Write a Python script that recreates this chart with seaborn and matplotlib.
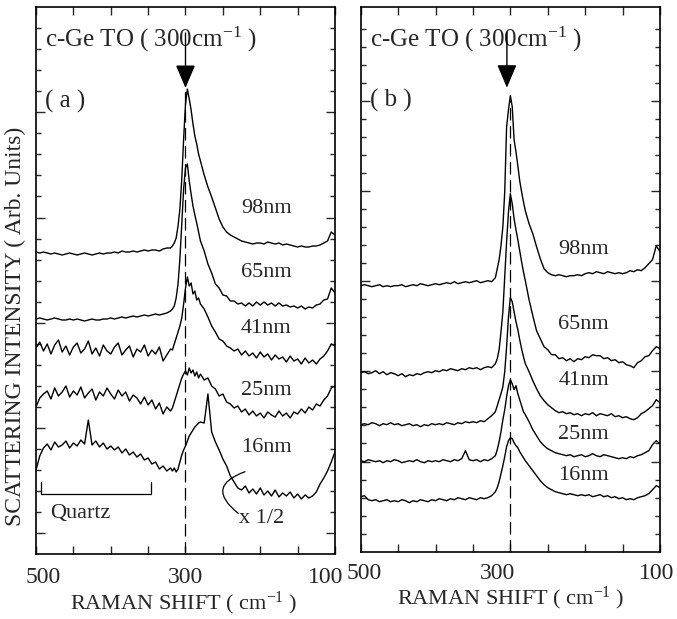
import matplotlib
matplotlib.use("Agg")
import matplotlib.pyplot as plt
from matplotlib.transforms import ScaledTranslation
import pandas as pd
import seaborn as sns

# Raman shift grid (cm-1), sampled finer around the Ge TO peak
raman_shift = [500, 495, 490, 485, 480, 475, 470, 465, 460, 455,
               450, 445, 440, 435, 430, 425, 420, 415, 410, 405,
               400, 395, 390, 385, 380, 375, 370, 365, 360, 355,
               350, 345, 340, 335, 330, 325, 320,
               317.5, 315, 312.5, 310, 307.5, 305, 302.5, 300, 297.5, 295,
               292.5, 290, 287.5, 285, 282.5,
               280, 275, 270, 265, 260, 255, 250, 245, 240, 235,
               230, 225, 220, 215, 210, 205, 200, 195, 190, 185,
               180, 175, 170, 165, 160, 155, 150, 145, 140, 135,
               130, 125, 120, 115, 110, 105, 100]

thickness = ["98nm", "65nm", "41nm", "25nm", "16nm"]

# ---- panel (a) : intensities, arb. units ----
a_98nm = [302, 301, 302, 301, 300, 301, 300, 299, 300, 301,
          300, 299, 300, 301, 300, 299, 300, 301, 300, 301,
          301, 302, 301, 303, 302, 302, 303, 302, 303, 304,
          303, 304, 304, 303, 305, 306, 306,
          308, 311, 316, 328, 345, 375, 415, 450, 465, 455, 444, 430, 418, 410, 400,
          393, 379, 367, 357, 346, 335, 327, 322, 319, 317,
          315, 313, 312, 311, 310, 311, 311, 310, 312, 311,
          310, 311, 309, 310, 309, 308, 307, 308, 307, 307,
          308, 308, 309, 311, 313, 322, 319]
a_65nm = [235, 236, 235, 234, 235, 236, 235, 234, 234, 235,
          234, 235, 234, 233, 234, 235, 234, 234, 235, 235,
          236, 235, 236, 237, 236, 237, 238, 237, 238, 239,
          238, 239, 240, 239, 240, 241, 243,
          245, 248, 256, 270, 295, 330, 365, 386, 390, 373, 360, 348, 339, 331, 322,
          313, 303, 290, 281, 270, 266, 259, 258, 253, 253,
          250, 251, 248, 251, 248, 252, 249, 252, 249, 251,
          248, 251, 248, 249, 247, 248, 246, 248, 245, 247,
          246, 249, 250, 254, 255, 266, 261]
a_41nm = [206, 212, 203, 210, 200, 209, 214, 202, 208, 199,
          207, 211, 201, 205, 213, 200, 206, 198, 209, 203,
          200, 207, 211, 199, 204, 208, 197, 205, 202, 209,
          198, 204, 200, 207, 193, 199, 205,
          204, 210, 216, 222, 228, 236, 250, 266, 277, 268, 271, 260, 263, 254, 256,
          250, 245, 237, 228, 222, 215, 213, 208, 206, 203,
          205, 199, 203, 198, 201, 196, 202, 197, 200, 194,
          199, 195, 197, 192, 198, 193, 195, 190, 196, 191,
          194, 190, 195, 198, 203, 210, 208]
a_25nm = [147, 156, 160, 163, 155, 166, 158, 162, 168, 157,
          163, 159, 167, 156, 161, 165, 154, 162, 158, 166,
          160, 155, 164, 158, 162, 153, 159, 156, 150, 157,
          149, 154, 145, 151, 140, 147, 143,
          146, 152, 158, 164, 170, 176, 180, 183, 179, 186, 181, 184, 178, 182, 176,
          180, 174, 176, 168, 165, 158, 160, 152, 150, 146,
          148, 142, 145, 139, 143, 138, 141, 136, 142, 139,
          137, 143, 138, 141, 136, 142, 140, 145, 141, 147,
          144, 150, 148, 154, 158, 166, 168]
a_16nm = [84, 98, 106, 110, 104, 112, 107, 109, 113, 106,
          111, 108, 114, 110, 134, 109, 113, 107, 111, 105,
          108, 104, 107, 101, 105, 99, 102, 97, 100, 94,
          96, 90, 92, 85, 88, 83, 86,
          83, 86, 82, 85, 92, 99, 104, 108, 113, 118, 121, 124, 127, 129, 131,
          132, 131, 160, 122, 112, 104, 95, 88, 78, 72,
          66, 64, 68, 61, 65, 60, 66, 59, 63, 58,
          64, 57, 61, 58, 62, 56, 60, 55, 59, 56,
          58, 62, 70, 76, 83, 92, 102]

# ---- panel (b) ----
b_98nm = [266, 267, 266, 265, 266, 267, 265, 266, 265, 266,
          266, 267, 265, 266, 267, 266, 268, 267, 266, 267,
          268, 267, 268, 269, 268, 270, 268, 269, 270, 269,
          270, 271, 269, 270, 271, 270, 274,
          283, 292, 306, 325, 360, 425, 442, 456, 445, 412, 400, 386, 371, 360, 350,
          341, 328, 318, 305, 293, 283, 279, 277, 276, 277,
          276, 275, 276, 276, 277, 276, 278, 279, 278, 280,
          279, 278, 280, 279, 278, 279, 278, 279, 281, 280,
          282, 281, 284, 288, 292, 306, 300]
b_65nm = [179, 180, 178, 179, 181, 178, 180, 177, 179, 178,
          176, 178, 175, 177, 176, 178, 177, 179, 180, 179,
          181, 180, 182, 181, 183, 182, 181, 183, 182, 184,
          183, 184, 182, 184, 185, 184, 188,
          193, 202, 220, 240, 275, 310, 340, 358, 348, 333, 322, 312, 301, 290, 280,
          271, 252, 236, 221, 213, 205, 202, 197, 197, 193,
          194, 191, 193, 190, 193, 192, 195, 194, 197, 196,
          196, 193, 194, 191, 192, 189, 190, 187, 186, 184,
          189, 191, 195, 196, 201, 205, 203]
b_41nm = [127, 128, 127, 129, 128, 126, 128, 127, 129, 127,
          128, 126, 127, 128, 126, 127, 125, 127, 126, 128,
          127, 128, 127, 129, 128, 127, 129, 128, 130, 129,
          130, 129, 131, 130, 133, 136, 140,
          146, 152, 158, 165, 180, 205, 235, 254, 250, 240, 230, 222, 212, 203, 195,
          188, 180, 171, 163, 156, 151, 147, 144, 141, 139,
          140, 138, 139, 137, 138, 136, 138, 137, 139, 136,
          138, 137, 136, 138, 135, 136, 134, 135, 133, 132,
          134, 138, 140, 143, 146, 152, 149]
b_25nm = [91, 90, 92, 91, 90, 91, 89, 91, 90, 92,
          91, 89, 90, 91, 90, 92, 90, 89, 91, 90,
          91, 90, 92, 91, 90, 92, 91, 93, 101, 92,
          91, 92, 90, 92, 91, 93, 96,
          102, 110, 120, 132, 142, 155, 166, 172, 168, 162, 166, 158, 152, 146, 140,
          137, 130, 122, 116, 110, 106, 103, 101, 99, 98,
          97, 96, 97, 95, 96, 97, 95, 96, 98, 96,
          95, 97, 96, 95, 94, 93, 94, 93, 95, 94,
          96, 97, 99, 101, 107, 111, 108]
b_16nm = [55, 56, 52, 51, 52, 50, 51, 52, 50, 51,
          50, 52, 51, 49, 51, 50, 52, 51, 50, 52,
          51, 53, 52, 51, 53, 52, 54, 53, 52, 54,
          53, 52, 54, 53, 54, 56, 60,
          64, 70, 78, 86, 95, 105, 111, 114, 113, 109, 106, 104, 100, 97, 94,
          91, 86, 81, 76, 71, 67, 64, 62, 60, 59,
          58, 57, 58, 57, 56, 57, 56, 57, 55, 56,
          57, 55, 56, 54, 55, 53, 54, 52, 53, 52,
          54, 55, 56, 58, 62, 66, 64]

# label positions (shift, intensity) next to each curve
label_x_a = 226
label_y_a = [341, 277, 221, 159, 102]
label_x_b = 236
label_y_b = [298, 223, 167, 113, 72]

ge_to = 300  # c-Ge TO position


def to_long(curves):
    frames = [pd.DataFrame({"shift": raman_shift, "intensity": v, "sample": n})
              for n, v in zip(thickness, curves)]
    return pd.concat(frames, ignore_index=True)


sns.set_style("ticks")
plt.rcParams["font.family"] = ["Liberation Serif", "DejaVu Serif"]
plt.rcParams["mathtext.fontset"] = "custom"
plt.rcParams["mathtext.rm"] = "Liberation Serif"
plt.rcParams["mathtext.it"] = "Liberation Serif:italic"

fig = plt.figure(figsize=(6.77, 6.19), dpi=100)
ax_a = fig.add_axes([36 / 677, 65 / 619, 299 / 677, 546.7 / 619])
ax_b = fig.add_axes([360.7 / 677, 67.3 / 619, 299.3 / 677, 544.4 / 619])

panels = [
    (ax_a, [a_98nm, a_65nm, a_41nm, a_25nm, a_16nm], 546.7, 21.03, [1, 6, 11, 16, 21], 25,
     label_x_a, label_y_a, "( a )", [7, 0, -9], 9.4, (0.493, -0.066)),
    (ax_b, [b_98nm, b_65nm, b_41nm, b_25nm, b_16nm], 544.4, 18.04, [5, 10, 15, 20, 25], 29,
     label_x_b, label_y_b, "( b )", [3.5, -13, -3], 8.0, (0.501, -0.061)),
]

for ax, curves, ytop, step, majors, nmin, lx, ly, tag, offs, pad, xl in panels:
    df = to_long(curves)
    sns.lineplot(data=df, x="shift", y="intensity", units="sample", estimator=None,
                 sort=False, color="black", linewidth=1.0, ax=ax, legend=False)

    ax.set_xlim(500, 100)
    ax.set_ylim(0, ytop)

    ax.set_xticks([500, 300, 100])
    ax.set_xticklabels(["500", "300", "100"])
    ax.set_xticks([450, 400, 350, 250, 200, 150], minor=True)
    ax.set_yticks([step * k for k in majors])
    ax.set_yticks([step * k for k in range(1, nmin + 1) if k not in majors], minor=True)
    ax.set_yticklabels([])

    ax.tick_params(axis="x", which="both", direction="in", top=True, bottom=True,
                   length=5.8, width=1.0, labelsize=17, pad=pad)
    ax.tick_params(axis="y", which="major", direction="in", left=True, right=True,
                   length=6.5, width=1.0)
    ax.tick_params(axis="y", which="minor", direction="in", left=True, right=True,
                   length=3.6, width=1.0)
    for s in ax.spines.values():
        s.set_linewidth(1.2)
        s.set_color("black")

    for lab, dx in zip(ax.get_xticklabels(), offs):
        lab.set_transform(lab.get_transform() +
                          ScaledTranslation(dx / 100, 0, fig.dpi_scale_trans))

    ax.set_xlabel("RAMAN SHIFT ( cm$^{-1}$ )", fontsize=16)
    ax.xaxis.set_label_coords(*xl)
    ax.set_ylabel("")

    for name, y in zip(thickness, ly):
        ax.text(lx, y, name, fontsize=16, ha="left", va="baseline")

    ax.text(0.031, 0.928, "c-Ge TO ( 300cm$^{-1}$ )", transform=ax.transAxes,
            fontsize=18, ha="left", va="baseline")
    ax.text(0.03, 0.817, tag, transform=ax.transAxes, fontsize=18,
            ha="left", va="baseline")

# arrows marking the c-Ge TO line
ax_a.annotate("", xy=(ge_to, 466), xytext=(ge_to, 521),
              arrowprops=dict(arrowstyle="-|>,head_length=1.44,head_width=0.61",
                              mutation_scale=10, color="black", lw=1.0,
                              shrinkA=0, shrinkB=0))
ax_b.annotate("", xy=(304.6, 464), xytext=(304.6, 519),
              arrowprops=dict(arrowstyle="-|>,head_length=1.44,head_width=0.61",
                              mutation_scale=10, color="black", lw=1.0,
                              shrinkA=0, shrinkB=0))

# dashed guide lines
ax_a.axvline(ge_to, ymin=0, ymax=466 / 546.7, color="black", lw=0.9, dashes=(10, 4.4))
ax_b.axvline(ge_to, ymin=0, ymax=455 / 544.4, color="black", lw=0.9, dashes=(10, 4.4))

# quartz bracket
ax_a.plot([493.3, 493.3, 346.2, 346.2], [72, 60, 60, 72], color="black", lw=0.9)
ax_a.text(481.3, 35.7, "Quartz", fontsize=16, ha="left", va="baseline")

# x 1/2 loop
ax_a.annotate("", xy=(229.4, 40.7), xytext=(220.4, 82.3),
              arrowprops=dict(arrowstyle="-", connectionstyle="arc3,rad=0.9",
                              color="black", lw=0.9, shrinkA=0, shrinkB=0))
ax_a.text(228.4, 31.3, "x 1/2", fontsize=16, ha="left", va="baseline")

fig.text(15.5 / 677, 1 - 326.5 / 619, "SCATTERING INTENSITY ( Arb. Units)",
         rotation=90, fontsize=17, ha="center", va="center")

fig.savefig("out.png", dpi=100)
